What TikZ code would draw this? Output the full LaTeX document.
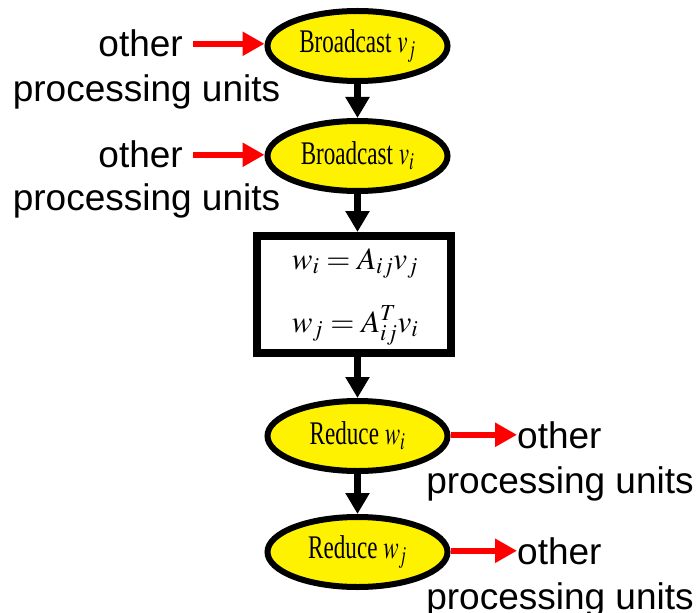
\documentclass[tikz,border=0pt]{standalone}
\usepackage{mathptmx}
\usepackage{fontspec}
\setmainfont{Liberation Serif}
\newfontfamily\labelfont{Liberation Sans}
\usetikzlibrary{arrows.meta,shapes.geometric}

% text inside the yellow stages is set narrow
\newcommand{\stagetext}[1]{\scalebox{0.7}[1]{\fontsize{33}{36}\selectfont #1}}

\tikzset{
  stage/.style={ellipse, draw=black, line width=6pt, fill=yellow,
    minimum width=180pt, minimum height=70pt, inner sep=0pt},
  kernel/.style={rectangle, draw=black, line width=8pt, fill=white,
    minimum width=194pt, minimum height=117pt},
  formula/.style={font=\fontsize{31}{36}\selectfont, inner sep=0pt, anchor=base},
  units/.style={font={\labelfont\fontsize{37}{44}\selectfont},
    inner sep=0pt, anchor=base},
  flow/.style={line width=7pt, -{Triangle[length=21pt,width=23pt]}},
  comm/.style={red, line width=6pt, -{Triangle[length=22pt,width=23pt]}}
}

\begin{document}
\begin{tikzpicture}[x=1pt,y=-1pt]
    \useasboundingbox (0,0) rectangle (700,612);

    % the processing chain
    \node[stage] (bcastj) at (357.5,46) {\stagetext{Broadcast $v_j$}};
    \node[stage] (bcasti) at (357.5,156) {\stagetext{Broadcast $v_i$}};
    \node[kernel] (mult) at (354,294.5) {};
    \node[formula] (multw) at (355,269) {$w_i = A_{ij}v_j$};
    \node[formula] (multt) at (355,332) {$w_j = A^T_{ij}v_i$};
    \node[stage] (redi) at (357.5,436) {\stagetext{Reduce $w_i$}};
    \node[stage] (redj) at (357.5,552) {\stagetext{Reduce $w_j$}};

    \draw[flow] (bcastj) -- (bcasti);
    \draw[flow] (bcasti) -- (mult.north -| bcasti.south);
    \draw[flow] (mult.south -| redi.north) -- (redi);
    \draw[flow] (redi) -- (redj);

    % incoming data
    \node[units, anchor=base east] (inj) at (183,57) {other};
    \node[units] (inj2) at (146.5,102) {processing units};
    \node[units, anchor=base east] (ini) at (183,168) {other};
    \node[units] (ini2) at (146.5,211) {processing units};
    \draw[comm] ([xshift=10pt]inj.east) -- (inj.east -| bcastj.west);
    \draw[comm] ([xshift=10pt]ini.east) -- (ini.east -| bcasti.west);

    % outgoing data
    \node[units, anchor=base west] (outi) at (517,448) {other};
    \node[units] (outi2) at (560,493) {processing units};
    \node[units, anchor=base west] (outj) at (517,564) {other};
    \node[units] (outj2) at (560,609) {processing units};
    \draw[comm] (redi.east |- outi.west) -- (outi.west);
    \draw[comm] (redj.east |- outj.west) -- (outj.west);
\end{tikzpicture}
\end{document}
